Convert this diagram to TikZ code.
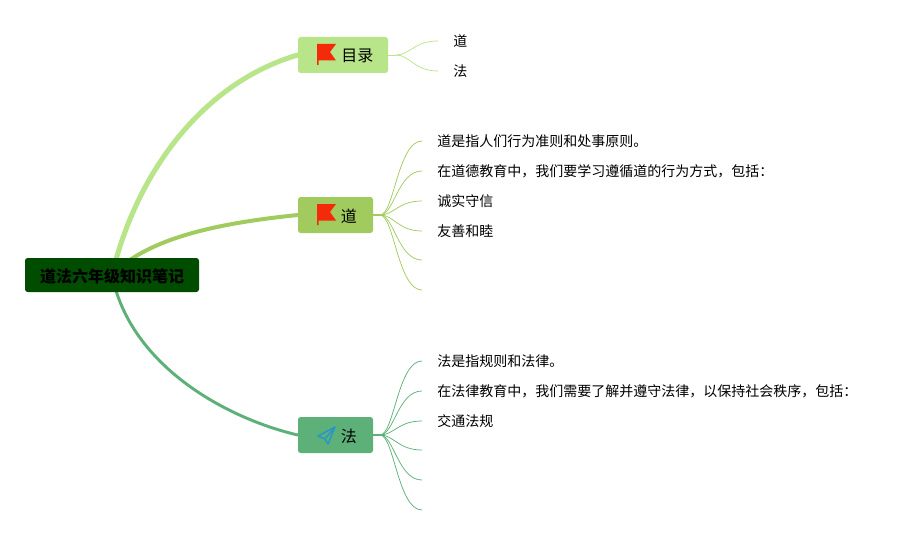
\documentclass[tikz,border=0pt]{standalone}
\usepackage{fontspec}
\setmainfont{Noto Sans CJK SC}
\usetikzlibrary{backgrounds}
\definecolor{rootgreen}{RGB}{0,77,0}
\definecolor{mulugreen}{RGB}{184,228,138}
\definecolor{daogreen}{RGB}{161,203,94}
\definecolor{fagreen}{RGB}{92,176,120}
\definecolor{flagred}{RGB}{244,42,10}
\definecolor{planeblue}{RGB}{40,150,200}
\tikzset{
  rootbox/.style={fill=rootgreen,rounded corners=2pt,minimum width=130.5pt,minimum height=25.5pt,inner sep=0pt,text height=10.5pt,text depth=0pt,font=\bfseries\fontsize{12}{14}\selectfont},
  branchbox/.style={rounded corners=2pt,minimum height=27pt,inner sep=0pt,text height=10.5pt,text depth=0pt,font=\fontsize{12}{14}\selectfont},
  leaftext/.style={anchor=west,inner xsep=11.25pt,inner ysep=0pt,font=\fontsize{10.5}{13}\selectfont},
  trunk/.style={line cap=round},
  twig/.style={line width=.55pt},
}
\newcommand{\flagicon}[2]{%
  \fill[flagred] (#1,#2) -- ++(19,0) -- ++(-6,8) -- ++(6,8.5) -- ++(-17.5,0) -- ++(0,4.5) -- ++(-1.5,0) -- cycle;}
\newcommand{\planeicon}[2]{%
  \draw[planeblue,line width=1.1pt,line join=round] (#1,#2) -- ++(-17,9) -- ++(7,3) -- ++(3,5) -- cycle
    (#1,#2) ++(-10,12) -- (#1,#2);}
\newcommand{\twigs}[3]{% hub, colour, targets
  \foreach \leaf in {#3}
    \draw[twig,#2] (#1) .. controls +(14,0) and +(-24,0) .. (\leaf);}
\begin{document}
\begin{tikzpicture}[x=.75pt,y=-.75pt]
\useasboundingbox (0,0) rectangle (917,535);
% root and branches
\node[rootbox] (root) at (112,275) {道法六年级知识笔记};
\node[branchbox,fill=mulugreen,minimum width=67.5pt] (mulu) at (343,55) {\hspace{21.5pt}目录};
\node[branchbox,fill=daogreen,minimum width=56.25pt] (dao) at (335.5,215) {\hspace{20pt}道};
\node[branchbox,fill=fagreen,minimum width=56.25pt] (fa) at (335.5,435) {\hspace{20pt}法};
\flagicon{317}{44}
\flagicon{317}{204}
\planeicon{335}{427}
% leaves
\node[leaftext] (muluA) at (438,41) {道};
\node[leaftext] (muluB) at (438,71) {法};
\node[leaftext] (daoA) at (422,141) {道是指人们行为准则和处事原则。};
\node[leaftext] (daoB) at (422,171) {在道德教育中，我们要学习遵循道的行为方式，包括：};
\node[leaftext] (daoC) at (422,201) {诚实守信};
\node[leaftext] (daoD) at (422,231) {友善和睦};
\coordinate (daoE) at (422,260);
\coordinate (daoF) at (422,290);
\node[leaftext] (faA) at (422,361) {法是指规则和法律。};
\node[leaftext] (faB) at (422,391) {在法律教育中，我们需要了解并遵守法律，以保持社会秩序，包括：};
\node[leaftext] (faC) at (422,421) {交通法规};
\coordinate (faD) at (422,450);
\coordinate (faE) at (422,480);
\coordinate (faF) at (422,510);
\coordinate (muluHub) at (396,55);
\coordinate (daoHub) at (380,215);
\coordinate (faHub) at (380,435);
\begin{scope}[on background layer]
\draw[trunk,mulugreen,line width=3.8pt] (root.center) .. controls (137,170) and (205,82) .. (mulu.west);
\draw[trunk,daogreen,line width=3pt] (root.center) .. controls (150,235) and (230,222) .. (dao.west);
\draw[trunk,fagreen,line width=2.2pt] (root.center) .. controls (130,365) and (225,418) .. (fa.west);
\draw[mulugreen,line width=.6pt] (mulu.east) -- (muluHub);
\draw[daogreen,line width=1.5pt] (dao.east) -- (daoHub);
\draw[fagreen,line width=1.5pt] (fa.east) -- (faHub);
\twigs{muluHub}{mulugreen}{muluA.west,muluB.west}
\twigs{daoHub}{daogreen}{daoA.west,daoB.west,daoC.west,daoD.west,daoE,daoF}
\twigs{faHub}{fagreen}{faA.west,faB.west,faC.west,faD,faE,faF}
\end{scope}
\end{tikzpicture}
\end{document}
